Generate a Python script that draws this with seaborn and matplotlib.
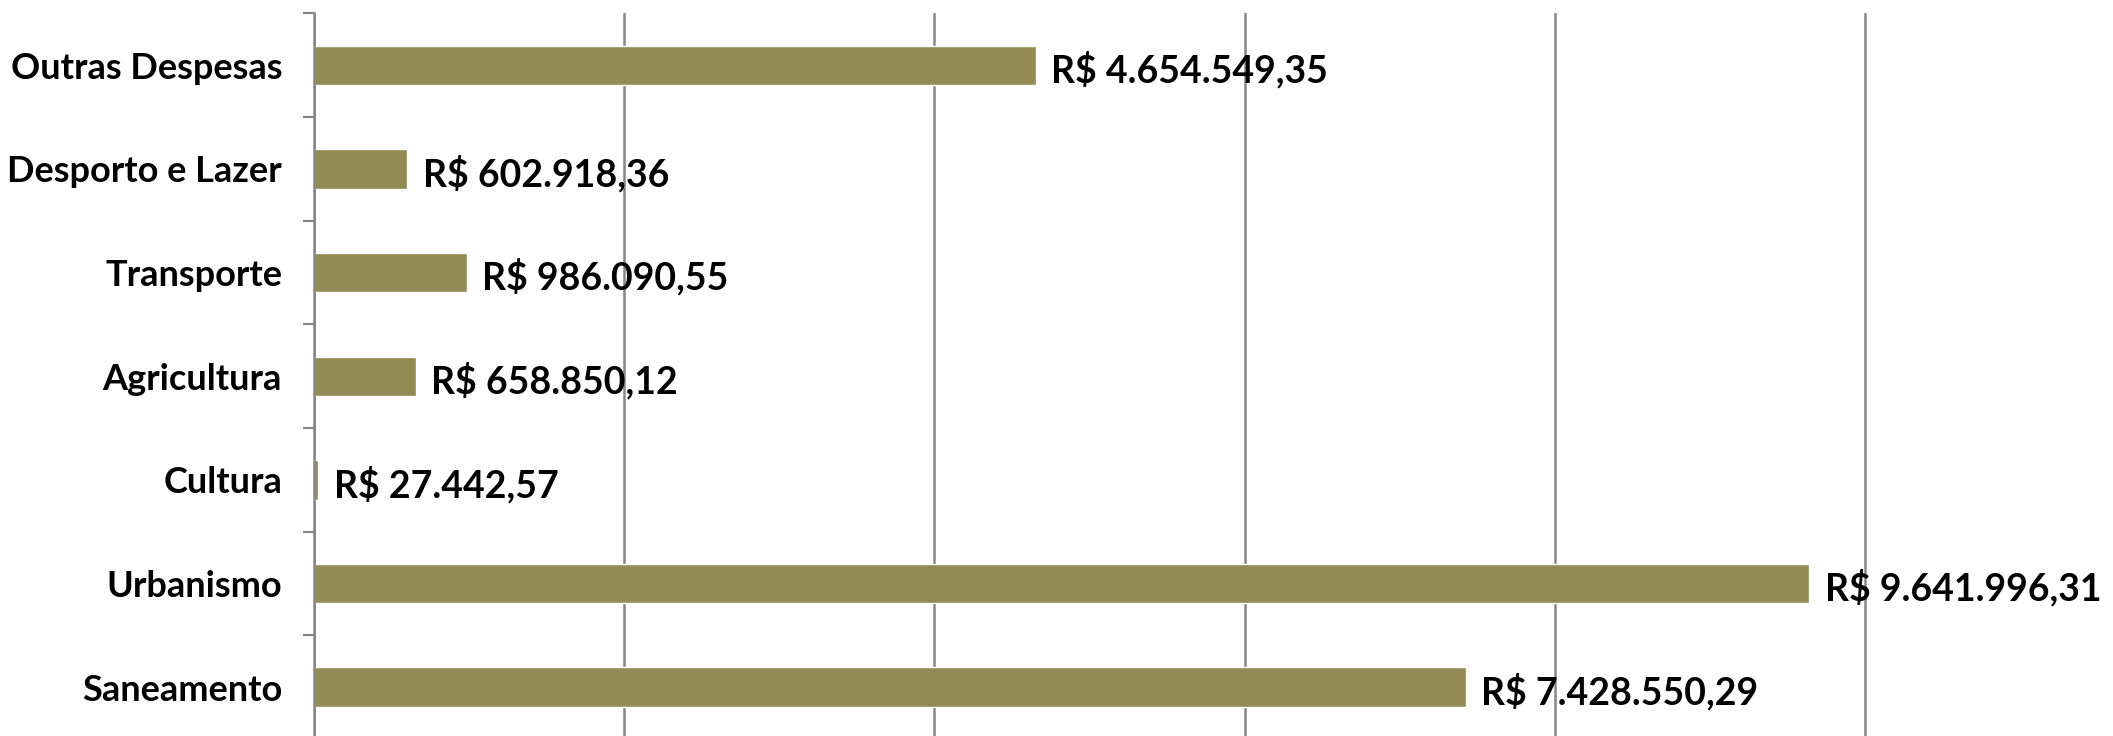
import matplotlib
matplotlib.use("Agg")
import matplotlib.pyplot as plt
import seaborn as sns
import pandas as pd
from matplotlib.ticker import MultipleLocator, FixedLocator

categories = ["Outras Despesas", "Desporto e Lazer", "Transporte", "Agricultura",
              "Cultura", "Urbanismo", "Saneamento"]
values = [4654549.35, 602918.36, 986090.55, 658850.12, 27442.57, 9641996.31, 7428550.29]

def brl(v):
    s = f"{v:,.2f}"
    s = s.replace(",", "X").replace(".", ",").replace("X", ".")
    return "R$ " + s

labels = [brl(v) for v in values]

sns.set_theme(style="white")
plt.rcParams['font.family'] = ['Lato', 'DejaVu Sans']
plt.rcParams['font.weight'] = 'bold'

df = pd.DataFrame({"cat": categories, "val": values})

fig = plt.figure(figsize=(21.13, 7.36), dpi=100)
ax = fig.add_axes([0.1486, -0.004, 0.8514, 0.9857])

sns.barplot(data=df, x="val", y="cat", order=categories, color="#948A54",
            saturation=1, width=0.38, ax=ax, orient="h")

ax.set_xlim(0, 11.6e6)
ax.set_ylim(len(categories) - 0.5, -0.5)
ax.xaxis.set_major_locator(MultipleLocator(2e6))
ax.grid(axis="x", color="#868686", linewidth=1.8)
ax.grid(axis="y", visible=False)
ax.set_axisbelow(True)
ax.set_xticklabels([])
ax.tick_params(axis="x", length=0)
ax.set_xlabel("")
ax.set_ylabel("")

for s in ["top", "right", "bottom"]:
    ax.spines[s].set_visible(False)
ax.spines["left"].set_color("#868686")
ax.spines["left"].set_linewidth(1.8)

ax.yaxis.set_minor_locator(FixedLocator([i - 0.5 for i in range(len(categories) + 1)]))
ax.tick_params(axis="y", which="minor", length=8, width=1.5, color="#868686", direction="out", left=True)
ax.tick_params(axis="y", which="major", length=0, pad=23, labelsize=26)
for t in ax.get_yticklabels():
    t.set_fontweight("bold")
    t.set_color("black")

for i, (v, lab) in enumerate(zip(values, labels)):
    ax.annotate(lab, xy=(v, i), xytext=(11, -12.5), textcoords="offset points",
                ha="left", va="baseline", fontsize=27, fontweight="bold", color="black")

fig.savefig("out.png", dpi=100)
